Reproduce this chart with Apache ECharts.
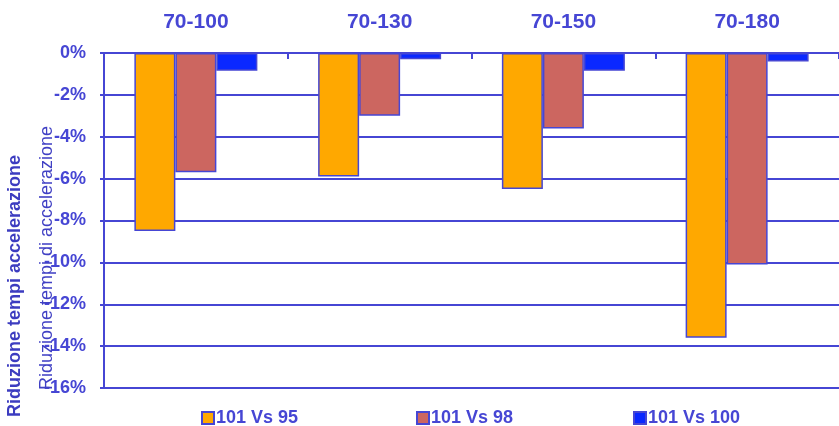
<!DOCTYPE html>
<html><head><meta charset="utf-8">
<script src="https://cdn.jsdelivr.net/npm/echarts@6/dist/echarts.min.js"></script>
<style>html,body{margin:0;padding:0;background:#fff}#c{width:839px;height:426px}</style>
</head><body><div id="c"></div>
<script>
const categories = ['70-100', '70-130', '70-150', '70-180'];
const s95 = [-8.5, -5.9, -6.5, -13.6];
const s98 = [-5.7, -3.0, -3.6, -10.1];
const s100 = [-0.85, -0.3, -0.85, -0.4];
const seriesNames = ['101 Vs 95', '101 Vs 98', '101 Vs 100'];
const axisTitle = 'Riduzione tempi di accelerazione';
const axisTitleBold = 'Riduzione tempi accelerazione';

const BLUE = '#4646D4';
const FONT = '"Liberation Sans", Arial, sans-serif';
const colors = ['#FFA800', '#CC6660', '#0A28FF'];
const chart = echarts.init(document.getElementById('c'));
const legendPos = [196, 411, 628];
chart.setOption({
  animation: false,
  backgroundColor: '#fff',
  grid: {left: 104, top: 53, width: 745, height: 335},
  legend: seriesNames.map((n, i) => ({
    data: [n], left: legendPos[i], top: 404, itemWidth: 12, itemHeight: 12, itemGap: 0,
    icon: 'rect',
    textStyle: {color: BLUE, fontWeight: 'bold', fontSize: 18, fontFamily: FONT, padding: [0, 0, 0, -3]}
  })),
  xAxis: {
    type: 'category', data: categories, position: 'top',
    axisLine: {lineStyle: {color: BLUE, width: 2}},
    axisTick: {show: true, inside: true, length: 6, lineStyle: {color: BLUE, width: 2}},
    axisLabel: {color: BLUE, fontWeight: 'bold', fontSize: 21, fontFamily: FONT, margin: 20}
  },
  yAxis: {
    type: 'value', min: -16, max: 0, interval: 2,
    axisLine: {show: true, lineStyle: {color: BLUE, width: 2}},
    axisTick: {show: true, length: 4, lineStyle: {color: BLUE, width: 2}},
    splitLine: {show: true, lineStyle: {color: BLUE, width: 2}},
    axisLabel: {color: BLUE, fontWeight: 'bold', fontSize: 18, fontFamily: FONT, margin: 18,
      formatter: v => v + '%'}
  },
  series: [s95, s98, s100].map((d, i) => ({
    name: seriesNames[i], type: 'bar', data: d, barWidth: 41, barGap: '0%',
    itemStyle: {color: colors[i], borderColor: BLUE, borderWidth: 1.5}
  })),
  graphic: [
    {type: 'text', x: 47, y: 258, rotation: Math.PI / 2, z: 100,
      style: {text: axisTitle, fill: '#4040C4', font: '18px ' + FONT, align: 'center', verticalAlign: 'middle'}},
    {type: 'text', x: 15, y: 286, rotation: Math.PI / 2, z: 100,
      style: {text: axisTitleBold, fill: '#3C3CC0', font: 'bold 18px ' + FONT, align: 'center', verticalAlign: 'middle'}}
  ]
});
</script></body></html>
